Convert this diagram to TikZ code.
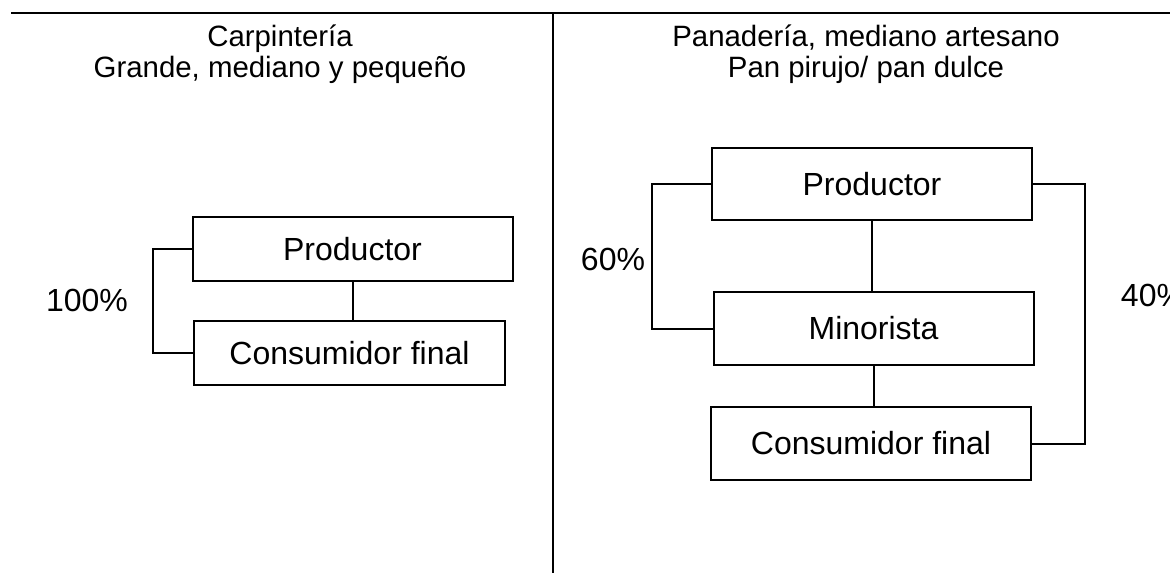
\documentclass[tikz,border=0pt]{standalone}
\usepackage{fontspec}
\setmainfont{Liberation Sans}
\usepackage{tikz}

\begin{document}
\begin{tikzpicture}[x=0.5pt, y=-0.5pt, line width=1pt,
    caja/.style={draw, inner sep=0pt, minimum width=160pt, font=\fontsize{16}{19}\selectfont},
    titulo/.style={align=center, inner sep=0pt, font=\fontsize{14.7}{15.5}\selectfont},
    pct/.style={inner sep=0pt, font=\fontsize{16}{19}\selectfont}]
    \useasboundingbox (0,0) rectangle (1170,573);

    % frame
    \coordinate (tl) at (11, 13);
    \coordinate (tr) at (1170, 13);
    \coordinate (dtop) at (553, 13);
    \coordinate (dbot) at (553, 573);
    \draw (tl) -- (tr);
    \draw (dtop) -- (dbot);

    % titles
    \node[titulo] at (280, 54) (t1) {Carpintería\\Grande, mediano y pequeño};
    \node[titulo] at (866, 54) (t2) {Panadería, mediano artesano\\Pan pirujo/ pan dulce};

    % left chain
    \node[caja, minimum height=32pt] at (352.5, 249) (lprod) {Productor};
    \node[caja, minimum height=32pt, minimum width=155.5pt] at (349.5, 353) (lcons) {Consumidor final};
    \node[pct] at (87, 300) (p100) {100\%};

    \draw (lprod.south) -- (lprod.south |- lcons.north);
    \draw (lprod.west) -- ++(-39, 0) |- (lcons.west);

    % right chain
    \node[caja, minimum height=36pt] at (872, 184) (rprod) {Productor};
    \node[caja, minimum height=36.5pt] at (873.5, 328.5) (rmin) {Minorista};
    \node[caja, minimum height=36.5pt] at (871, 443.5) (rcons) {Consumidor final};
    \node[pct] at (613, 259) (p60) {60\%};
    \node[pct] at (1153, 295) (p40) {40\%};

    \draw (rprod.south) -- (rprod.south |- rmin.north);
    \draw (rmin.south) -- (rmin.south |- rcons.north);
    \draw (rprod.west) -- ++(-59, 0) |- (rmin.west);
    \draw (rprod.east) -- ++(52, 0) |- (rcons.east);
\end{tikzpicture}
\end{document}
